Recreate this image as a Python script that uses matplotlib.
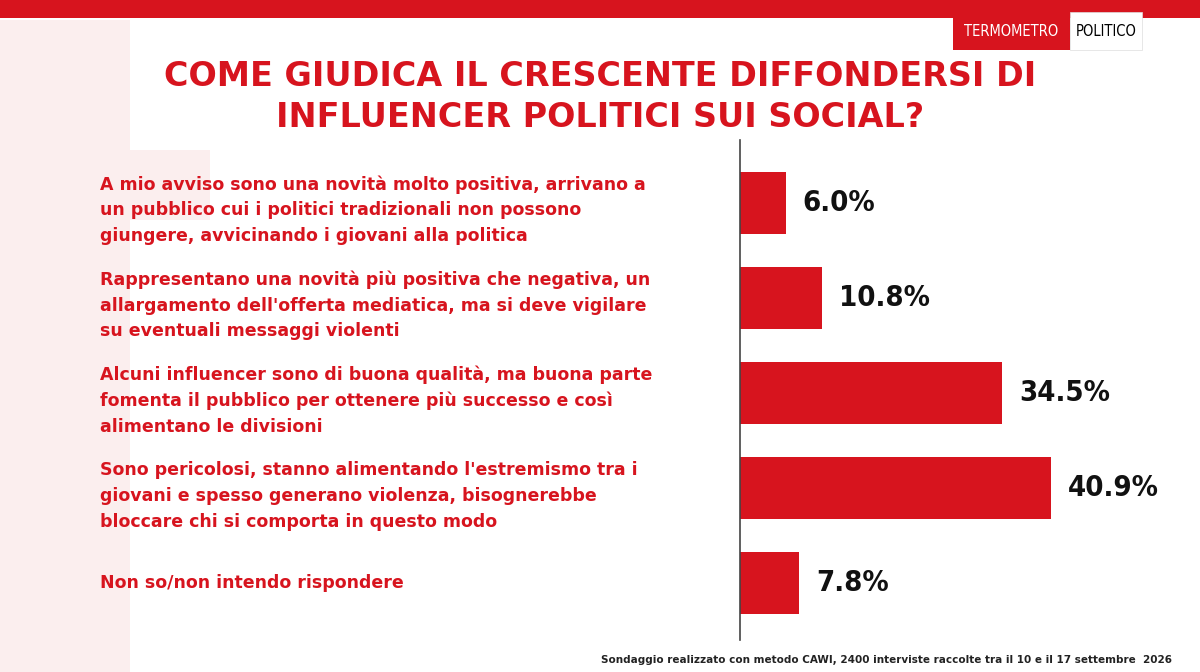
import matplotlib
matplotlib.use("Agg")
import matplotlib.pyplot as plt
from matplotlib.patches import Rectangle

categories = [
    "A mio avviso sono una novità molto positiva, arrivano a\nun pubblico cui i politici tradizionali non possono\ngiungere, avvicinando i giovani alla politica",
    "Rappresentano una novità più positiva che negativa, un\nallargamento dell'offerta mediatica, ma si deve vigilare\nsu eventuali messaggi violenti",
    "Alcuni influencer sono di buona qualità, ma buona parte\nfomenta il pubblico per ottenere più successo e così\nalimentano le divisioni",
    "Sono pericolosi, stanno alimentando l'estremismo tra i\ngiovani e spesso generano violenza, bisognerebbe\nbloccare chi si comporta in questo modo",
    "Non so/non intendo rispondere",
]
values = [6.0, 10.8, 34.5, 40.9, 7.8]
title = "COME GIUDICA IL CRESCENTE DIFFONDERSI DI\nINFLUENCER POLITICI SUI SOCIAL?"
note = "Sondaggio realizzato con metodo CAWI, 2400 interviste raccolte tra il 10 e il 17 settembre  2026"

RED = "#d7141e"
W, H = 1200, 672
fig = plt.figure(figsize=(12, 6.72), dpi=100)
fig.patch.set_facecolor("white")

def fx(px): return px / W
def fy(py): return 1 - py / H

# faint background decoration
for (x0, y0, w, h) in [(0, 20, 130, 652), (130, 150, 80, 70)]:
    fig.patches.append(Rectangle((fx(x0), fy(y0 + h)), fx(w), h / H, transform=fig.transFigure,
                                 facecolor="#fbeeee", edgecolor="none", zorder=0))
# top band
fig.patches.append(Rectangle((0, fy(18)), 1, 18 / H, transform=fig.transFigure,
                             facecolor=RED, edgecolor="none", zorder=1))
# logo
fig.patches.append(Rectangle((fx(953), fy(50)), fx(117), 38 / H, transform=fig.transFigure,
                             facecolor=RED, edgecolor="none", zorder=2))
fig.patches.append(Rectangle((fx(1070), fy(50)), fx(72), 38 / H, transform=fig.transFigure,
                             facecolor="white", edgecolor="#dddddd", lw=0.5, zorder=2))
fig.text(fx(1011), fy(32), "TERMOMETRO", color="white", fontsize=10.5, ha="center", va="center",
         family="DejaVu Sans", fontstretch="condensed", zorder=3)
fig.text(fx(1106), fy(32), "POLITICO", color="black", fontsize=10.5, ha="center", va="center",
         family="DejaVu Sans", fontstretch="condensed", zorder=3)

fig.text(fx(600), fy(97), title, color=RED, fontsize=24, fontweight="heavy", ha="center",
         va="center", linespacing=1.3, family="DejaVu Sans")

ax = fig.add_axes([fx(740), fy(640), fx(460), 500 / H])
ax.set_facecolor("none")
y = list(range(len(values)))
ax.barh(y, values, height=0.65, color=RED)
ax.set_xlim(0, 460 / 7.6)
ax.set_ylim(4.6, -0.663)
for s in ["top", "right", "bottom"]:
    ax.spines[s].set_visible(False)
ax.spines["left"].set_color("#444444")
ax.spines["left"].set_linewidth(1.2)
ax.set_xticks([]); ax.set_yticks([])
for yi, v in zip(y, values):
    ax.text(v + 2.2, yi, f"{v:.1f}%", va="center", ha="left", fontsize=21, fontweight="bold",
            family="DejaVu Sans", fontstretch="condensed", color="#111111")

for i, c in enumerate(categories):
    ypx = 210 + i * 95.3 if c.count("\n") else 583
    fig.text(fx(100), fy(ypx), c, color=RED, fontsize=12.5,
             fontweight="bold", ha="left", va="center", linespacing=1.55)

fig.text(fx(1172), fy(660), note, fontsize=7.5, fontweight="bold", ha="right", va="center",
         color="#222222")

fig.savefig("out.png", dpi=100, facecolor="white")
